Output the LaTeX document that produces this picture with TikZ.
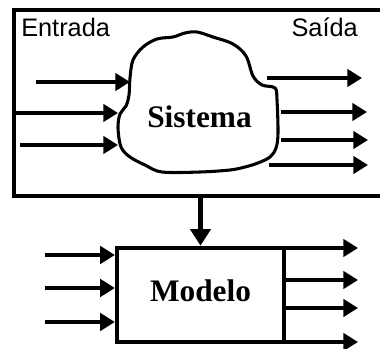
\documentclass[tikz,border=0pt]{standalone}
\usepackage{fontspec}
\setmainfont{Liberation Serif}
\newfontfamily\arialfont{Liberation Sans}
\usetikzlibrary{arrows.meta}
\begin{document}
\begin{tikzpicture}[x=0.75pt,y=-0.75pt,
  flow/.style={line width=2.5pt,-{Triangle[length=11pt,width=13pt]}},
  bigflow/.style={line width=3.6pt,-{Triangle[length=12.5pt,width=15pt]}},
  lbl/.style={font=\arialfont\fontsize{19pt}{22pt}\selectfont,inner sep=0pt},
  title/.style={font=\bfseries\fontsize{23.5pt}{26pt}\selectfont,inner sep=0pt},
  box/.style={draw,line width=3.4pt,minimum width=125pt,minimum height=70.5pt}]
\useasboundingbox (0,0) rectangle (380,349);
% frame (open at the right, clipped by the page edge)
\draw[line width=3.6pt,line cap=butt,line join=miter] (380,10) -- (14,10) -- (14,196) -- (380,196);
\coordinate (framebot) at (200.5,196);
% labels
\node[lbl,anchor=base west] (entrada) at (21,37) {Entrada};
\node[lbl,anchor=base east] (saida) at (358,37) {Saída};
% cloud
\draw[line width=2.3pt,line join=round] plot[smooth cycle,tension=0.55] coordinates {
 (130,78) (133,60) (143,47) (157,39) (173,37) (185,33) (197,32) (213,37)
 (233,44) (246,56) (253,76) (262,85) (275,88) (277,100) (278,133)
 (276,148) (270,157) (258,163) (245,167) (230,170) (200,172) (162,172)
 (145,165) (130,157) (121,147) (118,128) (120,114) (126,106) (129,95)};
\node[title,anchor=base] (sistema) at (199.5,128) {Sistema};
% inputs to the system
\coordinate (i1s) at (36,82);  \coordinate (i1e) at (130,82);
\coordinate (i2s) at (15,113); \coordinate (i2e) at (118,113);
\coordinate (i3s) at (20,145); \coordinate (i3e) at (118,145);
\draw[flow] (i1s) -- (i1e);
\draw[flow] (i2s) -- (i2e);
\draw[flow] (i3s) -- (i3e);
% outputs of the system
\coordinate (o1s) at (267,78);  \coordinate (o1e) at (362,78);
\coordinate (o2s) at (281,112); \coordinate (o2e) at (367,112);
\coordinate (o3s) at (281,140); \coordinate (o3e) at (368,140);
\coordinate (o4s) at (269,165); \coordinate (o4e) at (368,165);
\draw[flow] (o1s) -- (o1e);
\draw[flow] (o2s) -- (o2e);
\draw[flow] (o3s) -- (o3e);
\draw[flow] (o4s) -- (o4e);
% model
\node[box] (modelo) at (200.5,295) {};
\node[title,anchor=base] (modelotxt) at (200.5,302) {Modelo};
\draw[bigflow] (framebot) -- (modelo.north);
% model inputs
\foreach \y [count=\i] in {255,288,322}{
  \coordinate (mi\i) at (45,\y);
  \draw[flow] (mi\i) -- (modelo.west |- mi\i);
}
% model outputs
\foreach \y [count=\i] in {248,280,308,342}{
  \coordinate (mo\i) at (358,\y);
  \draw[flow] (modelo.east |- mo\i) -- (mo\i);
}
\end{tikzpicture}
\end{document}
